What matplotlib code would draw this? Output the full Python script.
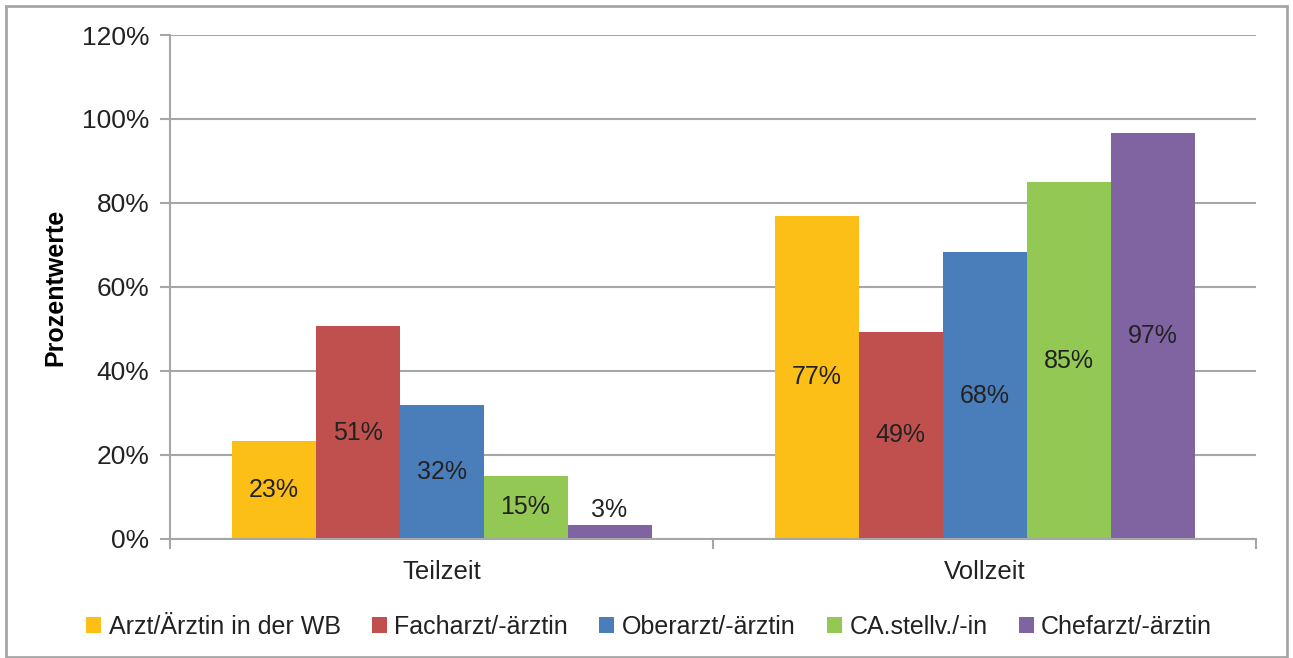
import matplotlib

matplotlib.use("Agg")
import matplotlib.pyplot as plt  # noqa: E402
import numpy as np  # noqa: E402
from matplotlib.patches import Rectangle  # noqa: E402
from matplotlib.ticker import FuncFormatter  # noqa: E402

plt.rcParams["font.family"] = ["Liberation Sans", "DejaVu Sans"]

categories = ["Teilzeit", "Vollzeit"]
series_names = [
    "Arzt/Ärztin in der WB",
    "Facharzt/-ärztin",
    "Oberarzt/-ärztin",
    "CA.stellv./-in",
    "Chefarzt/-ärztin",
]
series_values = [
    [23.3, 76.9],
    [50.7, 49.4],
    [31.8, 68.3],
    [15.1, 84.9],
    [3.4, 96.6],
]
colors = ["#FBBF17", "#C0504D", "#4A7EBB", "#92C853", "#8064A2"]

grid_color = "#A6A6A6"
text_color = "#222222"

fig = plt.figure(figsize=(12.93, 6.58), dpi=100)
ax = fig.add_axes([0.1315, 0.1809, 0.8399, 0.7659])

x = np.arange(len(categories))
n = len(series_names)
width = 0.1547

for i, (name, vals, col) in enumerate(zip(series_names, series_values, colors)):
    pos = x + (i - (n - 1) / 2) * width
    ax.bar(pos, vals, width=width, color=col, label=name, zorder=3)
    for px, v in zip(pos, vals):
        txt = f"{v:.0f}%"
        if v < 8:
            # too small for an inside label, put it on top
            ax.text(px, v + 0.6, txt, ha="center", va="bottom", fontsize=18,
                    color=text_color, zorder=4)
        else:
            ax.text(px, v / 2, txt, ha="center", va="center", fontsize=18,
                    color=text_color, zorder=4)

ax.set_xlim(-0.5, 1.5)
ax.set_ylim(0, 120)
ax.set_yticks(np.arange(0, 121, 20))
ax.yaxis.set_major_formatter(FuncFormatter(lambda v, _: f"{v:.0f}%"))
ax.yaxis.grid(True, color=grid_color, linewidth=1.5, zorder=0)

ax.set_xticks([-0.5, 0.5, 1.5])
ax.set_xticklabels([])
ax.set_xticks(x, minor=True)
ax.set_xticklabels(categories, minor=True)
ax.tick_params(axis="x", which="major", length=7, width=1.5, color=grid_color)
ax.tick_params(axis="x", which="minor", length=0, pad=15, labelsize=18.5,
               labelcolor=text_color)
ax.tick_params(axis="y", length=7, width=1.5, color=grid_color, labelsize=19,
               labelcolor=text_color, pad=8)

for side in ["top", "right"]:
    ax.spines[side].set_visible(False)
for side in ["left", "bottom"]:
    ax.spines[side].set_color(grid_color)
    ax.spines[side].set_linewidth(1.5)
    ax.spines[side].set_zorder(5)

ax.set_ylabel("Prozentwerte", fontsize=18, fontweight="bold", labelpad=10)

fig.legend(loc="center", bbox_to_anchor=(0.502, 0.047), ncol=5, frameon=False,
           fontsize=18, handlelength=0.6, handleheight=0.6, handletextpad=0.3,
           columnspacing=1.25, labelcolor=text_color)

fig.add_artist(Rectangle((6 / 1293, 1 / 658), 1281 / 1293, 651 / 658,
                         transform=fig.transFigure, fill=False,
                         edgecolor="#A6A6A6", linewidth=2))

fig.savefig("out.png", dpi=100)
